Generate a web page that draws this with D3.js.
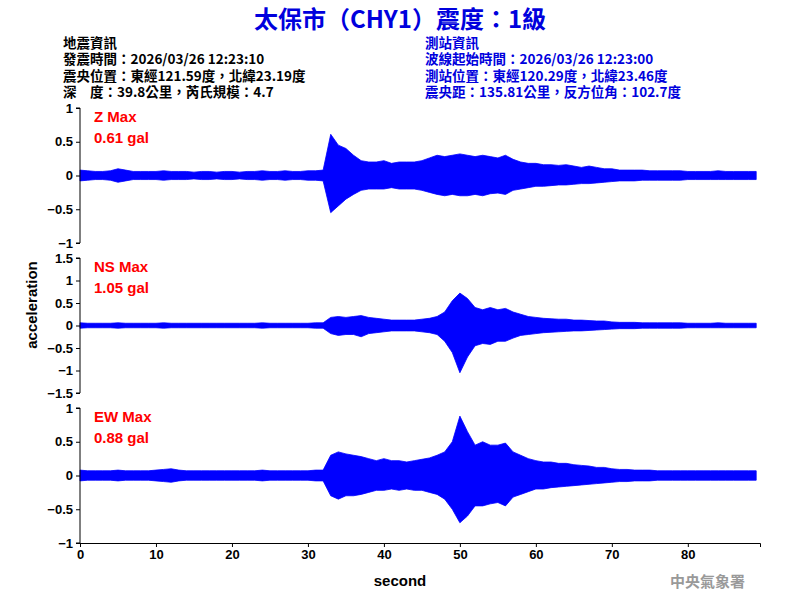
<!DOCTYPE html>
<html><head><meta charset="utf-8">
<script src="https://cdn.jsdelivr.net/npm/d3@7"></script>
<style>body{margin:0;background:#fff}text{font-family:Arial,"Liberation Sans",sans-serif}</style>
</head><body><svg id="c" width="800" height="600"></svg>
<script>
// per-second envelope (upper/lower), seconds 0..89
const seconds = d3.range(90);
const zUp = [0.08,0.07,0.06,0.06,0.07,0.1,0.08,0.06,0.06,0.06,0.06,0.07,0.06,0.06,0.06,0.05,0.06,0.06,0.05,0.06,0.06,0.05,0.06,0.06,0.07,0.06,0.06,0.07,0.06,0.06,0.07,0.07,0.08,0.61,0.45,0.4,0.3,0.22,0.2,0.2,0.22,0.18,0.2,0.2,0.2,0.22,0.26,0.3,0.28,0.3,0.32,0.3,0.28,0.3,0.28,0.26,0.3,0.24,0.2,0.18,0.18,0.16,0.16,0.15,0.16,0.14,0.12,0.14,0.12,0.1,0.1,0.08,0.08,0.08,0.08,0.07,0.07,0.07,0.07,0.07,0.06,0.06,0.06,0.06,0.07,0.06,0.06,0.06,0.06,0.06];
const zDn = [-0.08,-0.07,-0.06,-0.06,-0.07,-0.1,-0.08,-0.06,-0.06,-0.06,-0.06,-0.07,-0.06,-0.06,-0.06,-0.05,-0.06,-0.06,-0.05,-0.06,-0.06,-0.05,-0.06,-0.06,-0.07,-0.06,-0.06,-0.07,-0.06,-0.06,-0.07,-0.07,-0.08,-0.55,-0.45,-0.35,-0.28,-0.22,-0.2,-0.2,-0.2,-0.18,-0.2,-0.2,-0.2,-0.22,-0.25,-0.28,-0.3,-0.28,-0.3,-0.3,-0.28,-0.3,-0.27,-0.26,-0.28,-0.22,-0.2,-0.18,-0.16,-0.16,-0.15,-0.14,-0.14,-0.13,-0.12,-0.12,-0.11,-0.1,-0.09,-0.08,-0.08,-0.08,-0.07,-0.07,-0.07,-0.07,-0.07,-0.07,-0.06,-0.06,-0.06,-0.06,-0.06,-0.06,-0.06,-0.06,-0.06,-0.06];
const nsUp = [0.06,0.05,0.05,0.05,0.05,0.06,0.05,0.05,0.05,0.05,0.05,0.06,0.05,0.05,0.05,0.05,0.05,0.05,0.05,0.05,0.05,0.05,0.05,0.05,0.06,0.05,0.05,0.05,0.05,0.05,0.05,0.06,0.06,0.18,0.2,0.18,0.2,0.22,0.18,0.16,0.14,0.12,0.12,0.12,0.12,0.14,0.16,0.2,0.3,0.55,0.72,0.6,0.4,0.35,0.4,0.35,0.38,0.3,0.25,0.2,0.18,0.16,0.15,0.14,0.14,0.12,0.12,0.11,0.1,0.1,0.08,0.07,0.07,0.07,0.06,0.06,0.06,0.06,0.06,0.06,0.05,0.05,0.05,0.05,0.06,0.05,0.05,0.05,0.05,0.05];
const nsDn = [-0.06,-0.05,-0.05,-0.05,-0.05,-0.06,-0.05,-0.05,-0.05,-0.05,-0.05,-0.06,-0.05,-0.05,-0.05,-0.05,-0.05,-0.05,-0.05,-0.05,-0.05,-0.05,-0.05,-0.05,-0.06,-0.05,-0.05,-0.05,-0.05,-0.05,-0.05,-0.06,-0.06,-0.18,-0.22,-0.2,-0.2,-0.25,-0.18,-0.16,-0.14,-0.12,-0.12,-0.12,-0.12,-0.14,-0.16,-0.2,-0.35,-0.6,-1.05,-0.7,-0.45,-0.4,-0.42,-0.35,-0.35,-0.28,-0.22,-0.2,-0.18,-0.16,-0.15,-0.14,-0.13,-0.12,-0.12,-0.11,-0.1,-0.09,-0.08,-0.07,-0.07,-0.07,-0.06,-0.06,-0.06,-0.06,-0.06,-0.06,-0.05,-0.05,-0.05,-0.05,-0.05,-0.05,-0.05,-0.05,-0.05,-0.05];
const ewUp = [0.08,0.07,0.07,0.07,0.07,0.08,0.07,0.07,0.07,0.07,0.08,0.09,0.1,0.08,0.07,0.07,0.07,0.07,0.07,0.07,0.07,0.07,0.07,0.07,0.08,0.07,0.07,0.07,0.07,0.07,0.07,0.08,0.08,0.3,0.35,0.32,0.3,0.28,0.25,0.22,0.25,0.22,0.22,0.2,0.22,0.24,0.26,0.3,0.35,0.5,0.88,0.65,0.45,0.5,0.45,0.45,0.48,0.35,0.3,0.25,0.22,0.2,0.2,0.18,0.18,0.16,0.15,0.14,0.12,0.12,0.1,0.09,0.09,0.08,0.08,0.08,0.07,0.07,0.07,0.07,0.07,0.07,0.07,0.07,0.07,0.07,0.07,0.07,0.07,0.07];
const ewDn = [-0.08,-0.07,-0.07,-0.07,-0.07,-0.08,-0.07,-0.07,-0.07,-0.07,-0.08,-0.09,-0.1,-0.08,-0.07,-0.07,-0.07,-0.07,-0.07,-0.07,-0.07,-0.07,-0.07,-0.07,-0.08,-0.07,-0.07,-0.07,-0.07,-0.07,-0.07,-0.08,-0.08,-0.3,-0.35,-0.3,-0.3,-0.28,-0.25,-0.22,-0.22,-0.2,-0.22,-0.2,-0.22,-0.22,-0.25,-0.28,-0.35,-0.5,-0.7,-0.6,-0.45,-0.45,-0.42,-0.4,-0.45,-0.32,-0.28,-0.24,-0.2,-0.2,-0.18,-0.17,-0.16,-0.15,-0.14,-0.13,-0.12,-0.11,-0.1,-0.09,-0.09,-0.08,-0.08,-0.08,-0.07,-0.07,-0.07,-0.07,-0.07,-0.07,-0.07,-0.07,-0.07,-0.07,-0.07,-0.07,-0.07,-0.07];
const xTicks = [0,10,20,30,40,50,60,70,80];

const panels = [
  {up: zUp, dn: zDn, lim: 1, ticks: [-1,-0.5,0,0.5,1], label: 'Z Max', max: '0.61 gal', top: 108},
  {up: nsUp, dn: nsDn, lim: 1.5, ticks: [-1.5,-1,-0.5,0,0.5,1,1.5], label: 'NS Max', max: '1.05 gal', top: 258},
  {up: ewUp, dn: ewDn, lim: 1, ticks: [-1,-0.5,0,0.5,1], label: 'EW Max', max: '0.88 gal', top: 408}
];

const svg = d3.select('#c');
const x = d3.scaleLinear().domain([0, 89.5]).range([80, 760]);
const ph = 135;

panels.forEach((p) => {
    const y = d3.scaleLinear().domain([-p.lim, p.lim]).range([p.top + ph, p.top]);
    const area = d3.area().x((d, i) => x(seconds[i])).y0((d, i) => y(p.dn[i])).y1((d) => y(d));
    svg.append('path').datum(p.up).attr('d', area).attr('fill', '#0000ff').attr('stroke', '#0000ff').attr('stroke-width', 0.8);
    svg.append('g').attr('transform', 'translate(80,0)')
        .call(d3.axisLeft(y).tickValues(p.ticks).tickSize(4).tickFormat(d3.format('~g')))
        .call((g) => g.selectAll('text').attr('font-size', 13).attr('font-weight', 'bold').attr('fill', '#000'))
        .call((g) => g.select('.domain').attr('d', `M-4,${p.top}H0V${p.top + ph}H-4`));
    svg.append('text').attr('x', 94).attr('y', p.top + 14).attr('fill', '#ff0000').attr('font-size', 15).attr('font-weight', 'bold').text(p.label);
    svg.append('text').attr('x', 94).attr('y', p.top + 35).attr('fill', '#ff0000').attr('font-size', 15).attr('font-weight', 'bold').text(p.max);
});

svg.append('g').attr('transform', 'translate(0,543)')
    .call(d3.axisBottom(x).tickValues(xTicks).tickSize(4))
    .call((g) => g.selectAll('text').attr('font-size', 13).attr('font-weight', 'bold').attr('fill', '#000'));

svg.append('text').attr('x', 400).attr('y', 586).attr('text-anchor', 'middle').attr('font-size', 15).attr('font-weight', 'bold').text('second');
svg.append('text').attr('transform', 'translate(37,305) rotate(-90)').attr('text-anchor', 'middle').attr('font-size', 15).attr('font-weight', 'bold').text('acceleration');

svg.append('text').attr('x', 400).attr('y', 28).attr('text-anchor', 'middle').attr('fill', '#0000dd')
    .attr('font-size', 24).attr('font-weight', 'bold').style('font-family', '"Noto Sans CJK TC",Arial').text('太保市（CHY1）震度：1級');

const leftInfo = ['地震資訊', '發震時間：2026/03/26 12:23:10', '震央位置：東經121.59度，北緯23.19度', '深　度：39.8公里，芮氏規模：4.7'];
const rightInfo = ['測站資訊', '波線起始時間：2026/03/26 12:23:00', '測站位置：東經120.29度，北緯23.46度', '震央距：135.81公里，反方位角：102.7度'];
const info = (lines, x0, col) => lines.forEach((t, i) => {
    svg.append('text').attr('x', x0).attr('y', 48 + i * 16.3).attr('fill', col).attr('font-size', 13.5)
        .attr('font-weight', 'bold').style('font-family', '"Noto Sans CJK TC",sans-serif').text(t);
});
info(leftInfo, 63, '#000');
info(rightInfo, 425, '#0000dd');

svg.append('text').attr('x', 745).attr('y', 587).attr('text-anchor', 'end').attr('fill', '#999').attr('font-size', 15)
    .attr('font-weight', 'bold').style('font-family', '"Noto Sans CJK TC",serif').text('中央氣象署');
</script></body></html>
